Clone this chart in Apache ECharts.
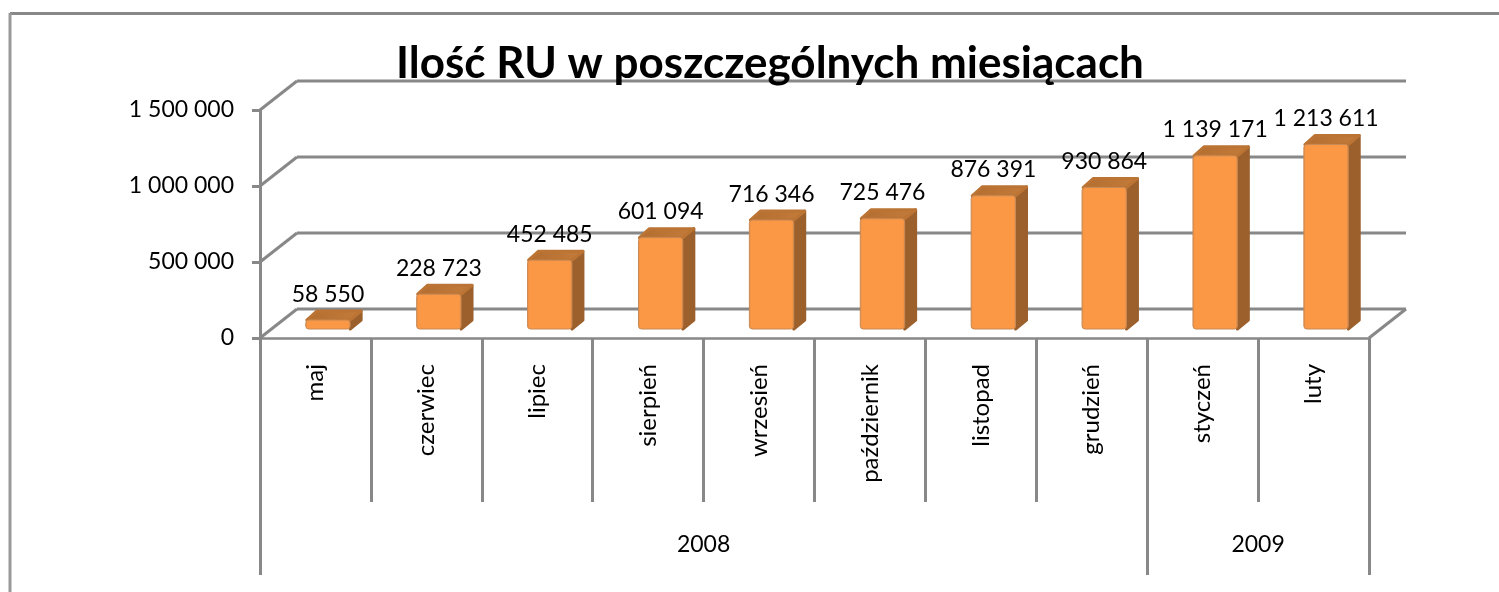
<!DOCTYPE html>
<html>
<head>
<meta charset="utf-8">
<title>Ilość RU</title>
<script src="https://cdn.jsdelivr.net/npm/echarts@6/dist/echarts.min.js"></script>
<style>
    * { margin: 0; padding: 0; }
    html, body { background: #fff; }
    #main { width: 1499px; height: 592px; }
</style>
</head>
<body>
<div id="main"></div>
<script>
var titleText = 'Ilość RU w poszczególnych miesiącach';
var months = ['maj', 'czerwiec', 'lipiec', 'sierpień', 'wrzesień', 'październik', 'listopad', 'grudzień', 'styczeń', 'luty'];
var ruValues = [58550, 228723, 452485, 601094, 716346, 725476, 876391, 930864, 1139171, 1213611];
var yTicks = [0, 500000, 1000000, 1500000];
var years = ['2008', '2009'];
var yearMonths = [8, 2];

var fontName = 'Lato';
var lineColor = '#888888';

// pseudo 3d offsets
var wallDx = 37, wallDy = 29;
var barDx = 12.5, barDy = 9;
var sideDx = 11, sideDy = 9;
var barRatio = 0.4;

// year boundaries on the month scale
var yearBounds = [0];
var yearCenters = [];
for (var i = 0; i < yearMonths.length; i++) {
    var last = yearBounds[yearBounds.length - 1];
    yearCenters.push(last + yearMonths[i] / 2);
    yearBounds.push(last + yearMonths[i]);
}

function spaced(v) {
    return String(v).replace(/\B(?=(\d{3})+$)/g, ' ');
}

function renderWall(params, api) {
    var box = params.coordSys;
    var p = api.coord([0, api.value(1)]);
    var y = p[1];
    var left = box.x, right = box.x + box.width;
    var style = { stroke: lineColor, lineWidth: 3, fill: 'none' };
    var children = [
        { type: 'line', shape: { x1: left, y1: y, x2: left + wallDx, y2: y - wallDy }, style: style },
        { type: 'line', shape: { x1: left + wallDx, y1: y - wallDy, x2: right + wallDx, y2: y - wallDy }, style: style }
    ];
    if (api.value(1) === 0) {
        children.push({ type: 'line', shape: { x1: right, y1: y, x2: right + wallDx, y2: y - wallDy }, style: style });
    }
    return { type: 'group', children: children };
}

function renderBar(params, api) {
    var top = api.coord([api.value(0), api.value(1)]);
    var base = api.coord([api.value(0), 0]);
    var w = api.size([1, 0])[0] * barRatio;
    var x0 = top[0] + barDx - w / 2;
    var x1 = x0 + w;
    var yt = top[1] - barDy;
    var yb = base[1] - barDy;
    return {
        type: 'group',
        children: [
            {
                type: 'polygon',
                shape: { points: [[x1, yt], [x1 + sideDx, yt - sideDy], [x1 + sideDx, yb - sideDy], [x1, yb]] },
                style: { fill: '#9c602c', stroke: '#9c602c', lineJoin: 'round', lineWidth: 3 }
            },
            {
                type: 'polygon',
                shape: { points: [[x0 + 1, yt], [x0 + sideDx, yt - sideDy], [x1 + sideDx, yt - sideDy], [x1, yt]] },
                style: {
                    fill: new echarts.graphic.LinearGradient(0, 0, 1, 0, [
                        { offset: 0, color: '#b26d30' },
                        { offset: 1, color: '#c47c3a' }
                    ]),
                    stroke: '#bb7434', lineJoin: 'round', lineWidth: 3
                }
            },
            {
                type: 'rect',
                shape: { x: x0, y: yt, width: w, height: yb - yt, r: 3 },
                style: {
                    fill: new echarts.graphic.LinearGradient(0, 0, 1, 0, [
                        { offset: 0, color: '#e08a45' },
                        { offset: 0.05, color: '#fa9845' },
                        { offset: 0.95, color: '#fa9845' },
                        { offset: 1, color: '#e08a45' }
                    ]),
                    stroke: '#c98a55', lineWidth: 1
                }
            },
            {
                type: 'text',
                style: {
                    x: (x0 + x1) / 2,
                    y: yt - 26,
                    text: spaced(api.value(1)),
                    fill: '#000',
                    font: '23px ' + fontName,
                    align: 'center',
                    verticalAlign: 'middle'
                }
            }
        ]
    };
}

var chart = echarts.init(document.getElementById('main'), null, { renderer: 'canvas' });
chart.setOption({
    animation: false,
    backgroundColor: '#fff',
    textStyle: { fontFamily: fontName },
    title: {
        text: titleText,
        left: 391,
        top: 37,
        z: 10,
        textStyle: { fontFamily: fontName, fontWeight: 'bold', fontSize: 44, color: '#000' }
    },
    grid: { left: 260, top: 110, width: 1109, height: 228, containLabel: false },
    xAxis: [
        {
            type: 'category',
            data: months,
            position: 'bottom',
            axisLine: { show: true, lineStyle: { color: lineColor, width: 2.5 } },
            axisTick: { show: true, length: 164, lineStyle: { color: lineColor, width: 3 } },
            axisLabel: { interval: 0, rotate: 90, margin: 26, fontSize: 24, color: '#000' }
        },
        {
            type: 'value',
            min: 0,
            max: months.length,
            position: 'bottom',
            offset: 164,
            splitLine: { show: false },
            axisLine: { show: false },
            axisTick: { show: true, customValues: yearBounds, length: 73, lineStyle: { color: lineColor, width: 3 } },
            axisLabel: {
                customValues: yearCenters,
                margin: 31,
                fontSize: 23,
                color: '#000',
                formatter: function (v) { return years[yearCenters.indexOf(v)]; }
            }
        }
    ],
    yAxis: {
        type: 'value',
        min: 0,
        max: 1500000,
        interval: 500000,
        splitLine: { show: false },
        axisLine: { show: true, lineStyle: { color: lineColor, width: 3 } },
        axisTick: { show: true, length: 8, lineStyle: { color: lineColor, width: 3 } },
        axisLabel: { margin: 26, fontSize: 23, color: '#000', padding: [3, 0, 0, 0], formatter: spaced }
    },
    graphic: [
        { type: 'line', silent: true, shape: { x1: 10, y1: 13.5, x2: 1499, y2: 13.5 }, style: { stroke: lineColor, lineWidth: 3 } },
        { type: 'line', silent: true, shape: { x1: 10, y1: 13, x2: 10, y2: 592 }, style: { stroke: '#999999', lineWidth: 3 } }
    ],
    series: [
        {
            type: 'custom',
            name: 'wall',
            z: 2,
            silent: true,
            renderItem: renderWall,
            data: yTicks.map(function (v) { return [0, v]; })
        },
        {
            type: 'custom',
            name: 'Ilość RU',
            z: 3,
            renderItem: renderBar,
            data: ruValues.map(function (v, i) { return [i, v]; })
        }
    ]
});
</script>
</body>
</html>
